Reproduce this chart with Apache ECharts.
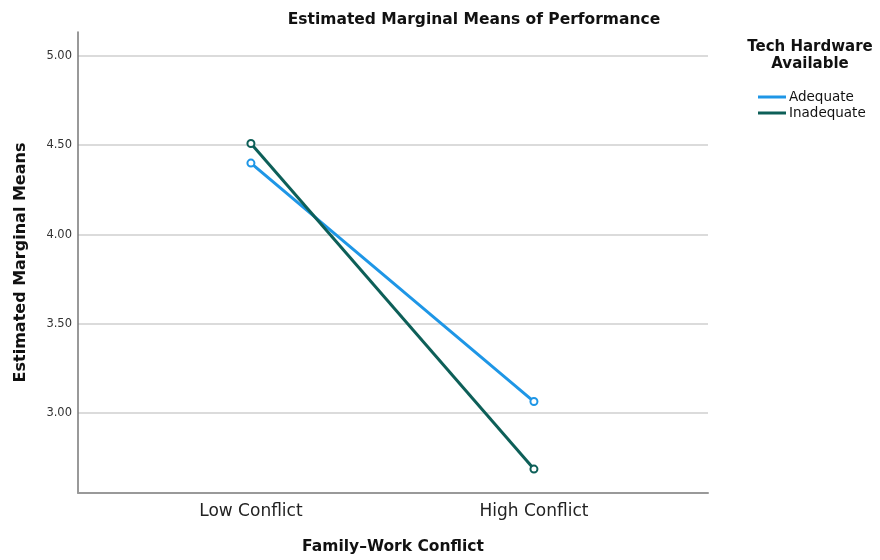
<!DOCTYPE html>
<html>
<head>
<meta charset="utf-8">
<script src="https://cdn.jsdelivr.net/npm/echarts@6/dist/echarts.min.js"></script>
<style>html,body{margin:0;padding:0;background:#fff}#c{width:880px;height:560px}</style>
</head>
<body>
<div id="c"></div>
<script>
const categories = ['Low Conflict', 'High Conflict'];
const adequate = [4.40, 3.065];
const inadequate = [4.51, 2.687];
const yTicks = [3.0, 3.5, 4.0, 4.5, 5.0];
const seriesNames = ['Adequate', 'Inadequate'];
const colors = ['#1e96e6', '#0d5f58'];

const FONT = '"DejaVu Sans", "Open Sans", sans-serif';
const toPairs = arr => arr.map((v, i) => [i + 1, v]);

const chart = echarts.init(document.getElementById('c'), null, {renderer: 'canvas'});
chart.setOption({
  animation: false,
  textStyle: {fontFamily: FONT},
  title: {
    text: 'Estimated Marginal Means of Performance',
    left: 469, top: 7, textAlign: 'center',
    textStyle: {fontSize: 15.5, fontWeight: 'bold', color: '#111', fontFamily: FONT}
  },
  graphic: [{
    type: 'text', x: 810, y: 39,
    style: {
      text: 'Tech Hardware\nAvailable', align: 'center', textAlign: 'center',
      font: 'bold 15px ' + FONT, fill: '#111', lineHeight: 17
    }
  }],
  legend: {
    orient: 'vertical', left: 753, top: 85, itemGap: 2,
    icon: 'rect', itemWidth: 28, itemHeight: 3,
    textStyle: {fontSize: 13.5, color: '#111', padding: [0, 0, 0, -2], fontFamily: FONT},
    data: seriesNames
  },
  grid: {left: 78, right: 172, top: 32, bottom: 66},
  xAxis: {
    type: 'value', min: 0.389, max: 2.615,
    name: 'Family\u2013Work Conflict', nameLocation: 'middle', nameGap: 46,
    nameTextStyle: {fontSize: 15.5, fontWeight: 'bold', color: '#111', fontFamily: FONT},
    axisLine: {show: true, lineStyle: {color: '#999', width: 2}},
    axisTick: {show: false},
    splitLine: {show: false},
    axisLabel: {
      customValues: [1, 2], fontSize: 17, color: '#222', margin: 10, fontFamily: FONT,
      formatter: v => categories[Math.round(v) - 1] || ''
    }
  },
  yAxis: {
    type: 'value', min: 2.553, max: 5.134,
    name: 'Estimated Marginal Means', nameLocation: 'middle', nameGap: 49,
    nameTextStyle: {fontSize: 16, fontWeight: 'bold', color: '#111', fontFamily: FONT},
    axisLine: {show: true, lineStyle: {color: '#777', width: 1.5}},
    axisTick: {show: false, customValues: yTicks},
    splitLine: {show: true, lineStyle: {color: '#cfcfcf', width: 1.5}},
    axisLabel: {
      customValues: yTicks, fontSize: 11.5, color: '#333', margin: 6, fontFamily: FONT,
      formatter: v => v.toFixed(2)
    }
  },
  series: [
    {name: seriesNames[0], type: 'line', data: toPairs(adequate), symbol: 'emptyCircle', symbolSize: 7,
     color: colors[0], lineStyle: {width: 3, color: colors[0]}, itemStyle: {color: colors[0], borderWidth: 1.5}},
    {name: seriesNames[1], type: 'line', data: toPairs(inadequate), symbol: 'emptyCircle', symbolSize: 7,
     color: colors[1], lineStyle: {width: 3, color: colors[1]}, itemStyle: {color: colors[1], borderWidth: 1.5}}
  ]
});
</script>
</body>
</html>
